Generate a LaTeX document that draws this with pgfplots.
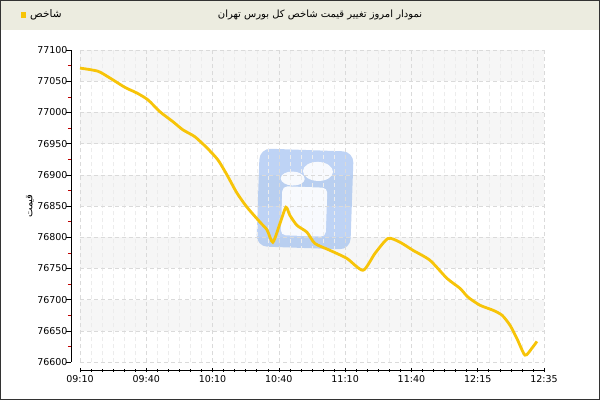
\documentclass[border=0pt]{standalone}
\usepackage{fontspec}
\setmainfont{DejaVu Sans}
\newfontfamily\arabicfont[Script=Arabic]{DejaVu Sans}
\TeXXeTstate=1
\usepackage{pgfplots}
\pgfplotsset{compat=1.18}

\definecolor{linecol}{RGB}{247,196,8}
\definecolor{headbg}{RGB}{236,236,224}
\definecolor{band}{RGB}{246,246,246}
\definecolor{gridmaj}{RGB}{218,218,218}
\definecolor{gridmin}{RGB}{236,236,236}
\definecolor{wmblue}{RGB}{120,165,235}

\begin{document}
\begin{tikzpicture}
  \begin{scope}[x=1pt,y=1pt]
  \fill[white] (0,0) rectangle (600,400);
  \fill[headbg] (0,370) rectangle (600,400);
  \draw[black!80, line width=1pt] (0.5,0.5) rectangle (599.5,399.5);
  \node at (320,385) {\arabicfont\fontsize{10}{12}\selectfont\beginR نمودار امروز تغییر قیمت شاخص کل بورس تهران\endR};
  \fill[linecol] (20.5,381.5) rectangle (25.5,387.5);
  \node[anchor=west, inner sep=0pt] at (30,385) {\arabicfont\fontsize{10.5}{12}\selectfont\beginR شاخص\endR};

  % alternating background bands of the plot area (every 50 units)
  \foreach \yb in {318.8,256.4,194,131.6,69.2}
    \fill[band] (80,\yb) rectangle (544,\yb+31.2);
  % watermark logo
  \begin{scope}[shift={(305,201)}, rotate=-2]
    \fill[wmblue, opacity=0.48, rounded corners=11pt] (-47,-49) rectangle (47,49);
    \fill[white, opacity=0.9] (-13,20) ellipse (12 and 7);
    \fill[white, opacity=0.9] (12,28) ellipse (15 and 9.5);
    \fill[white, opacity=0.9, rounded corners=5pt] (-23,-37) rectangle (22,12);
  \end{scope}
  \end{scope}

  \begin{axis}[
      at={(80pt,38pt)}, anchor=south west,
      scale only axis, width=464pt, height=312pt,
      xmin=0, xmax=210, ymin=76600, ymax=77100,
      xtick={0,30,...,210},
      xticklabels={09:10,09:40,10:10,10:40,11:10,11:40,12:15,12:35},
      minor x tick num=5,
      ytick={76600,76650,...,77100},
      minor y tick num=1,
      axis lines=left,
      axis line style={-, black, line width=0.9pt},
      axis x line shift=8pt,
      axis y line shift=9pt,
      xtick align=center,
      ytick align=outside,
      major tick length=4.5pt,
      minor tick length=3pt,
      tick style={black, line width=0.6pt},
      minor y tick style={red!75!black},
      xmajorgrids, xminorgrids, ymajorgrids,
      major grid style={dash pattern=on 4pt off 3pt, gridmaj, line width=0.6pt},
      minor grid style={dash pattern=on 4pt off 3pt, gridmin, line width=0.5pt},
      scaled y ticks=false,
      /pgf/number format/assume math mode=true,
      /pgf/number format/1000 sep={},
      tick label style={font=\fontsize{9.5}{11}\selectfont},
      yticklabel style={inner xsep=0.3pt, xshift=1.5pt},
      ylabel={\arabicfont\beginR قیمت\endR},
      ylabel style={at={(axis description cs:0,0.5)}, anchor=center, yshift=50pt,
        font=\fontsize{10}{12}\selectfont},
    ]
    \addplot[linecol, line width=2.8pt, smooth, tension=0.4] coordinates {
      (0,77071) (8.1,77066) (13.6,77055) (20.4,77040) (25.8,77031)
      (30.8,77020) (36.2,77001) (42.1,76985) (46.6,76972) (52.0,76961)
      (57.5,76943) (62.4,76924) (66.5,76900) (71.0,76871) (75.6,76848)
      (81.5,76824) (84.6,76812) (87.3,76792) (90.5,76822) (93.2,76848)
      (95.0,76835) (98.2,76819) (102.7,76808) (106.3,76790) (113.1,76779)
      (120.8,76766) (128.1,76747) (133.5,76774) (139.4,76798) (144.8,76792)
      (150.7,76779) (158.4,76763) (166.1,76734) (172.0,76718) (175.6,76704)
      (181.0,76691) (186.9,76683) (191.0,76675) (194.6,76659) (197.7,76638)
      (201.4,76611) (204.5,76622) (206.8,76633)
    };
  \end{axis}
\end{tikzpicture}
\end{document}
